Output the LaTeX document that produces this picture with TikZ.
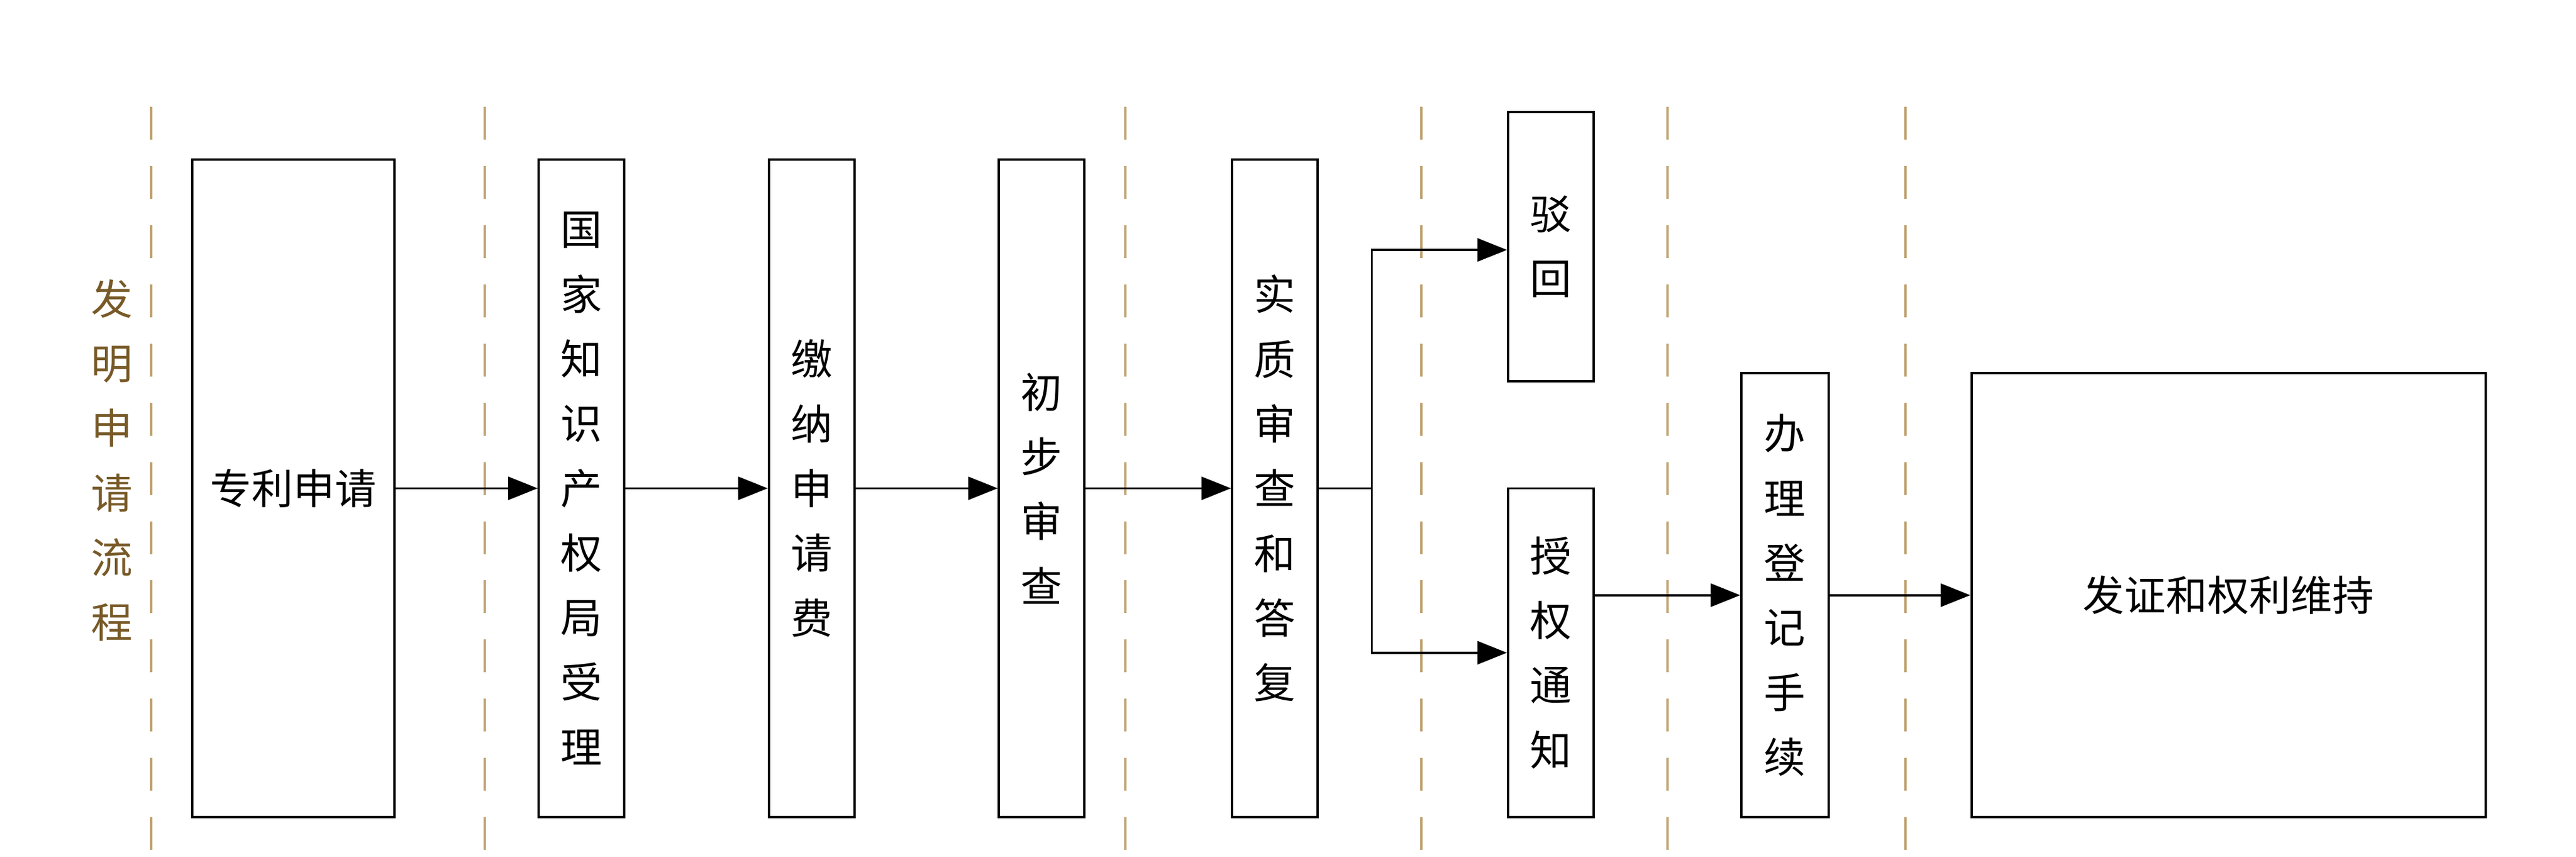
\documentclass[tikz,border=0pt]{standalone}
\usepackage{fontspec}
\setmainfont{Noto Sans CJK SC}
\usetikzlibrary{arrows.meta}
\definecolor{tan}{RGB}{190,160,110}
\definecolor{txtbrown}{RGB}{120,90,40}
\tikzset{
  box/.style={draw, line width=4pt, align=center, inner sep=0pt,
    font=\fontsize{72}{112}\selectfont},
  guide/.style={tan, line width=4pt, dash pattern=on 2cm off 1.6cm},
  arrow/.style={-{Triangle[length=1.8cm,width=1.4cm]}, line width=4pt},
  line/.style={line width=4pt}
}
\begin{document}
\begin{tikzpicture}[x=0.1cm, y=-0.1cm]
\useasboundingbox (0,0) rectangle (1568,521);

% guides
\foreach \gx in {92,295,685,865,1015,1160}
  \draw[guide] (\gx,65) -- (\gx,521);

\node[txtbrown, align=center, font=\fontsize{72}{112}\selectfont] (title) at (68,280) {发\\明\\申\\请\\流\\程};

% boxes
\node[box, minimum width=12.3cm, minimum height=40cm] (apply) at (178.5,297) {专利申请};
\node[box, minimum width=5.2cm, minimum height=40cm] (accept) at (354,297) {国\\家\\知\\识\\产\\权\\局\\受\\理};
\node[box, minimum width=5.2cm, minimum height=40cm] (fee) at (494,297) {缴\\纳\\申\\请\\费};
\node[box, minimum width=5.2cm, minimum height=40cm] (prelim) at (634,297) {初\\步\\审\\查};
\node[box, minimum width=5.2cm, minimum height=40cm] (subst) at (776,297) {实\\质\\审\\查\\和\\答\\复};
\node[box, minimum width=5.2cm, minimum height=16.4cm] (reject) at (944,150) {驳\\回};
\node[box, minimum width=5.2cm, minimum height=20cm] (grant) at (944,397) {授\\权\\通\\知};
\node[box, minimum width=5.3cm, minimum height=27cm] (register) at (1086.5,362) {办\\理\\登\\记\\手\\续};
\node[box, minimum width=31.3cm, minimum height=27cm] (cert) at (1356.5,362) {发证和权利维持};

\coordinate (split) at (835,297);

% arrows
\draw[arrow] (apply.east |- 0,297) -- (accept.west |- 0,297);
\draw[arrow] (accept.east |- 0,297) -- (fee.west |- 0,297);
\draw[arrow] (fee.east |- 0,297) -- (prelim.west |- 0,297);
\draw[arrow] (prelim.east |- 0,297) -- (subst.west |- 0,297);
\draw[line] (subst.east |- 0,297) -- (split);
\draw[arrow] (split) |- (reject.west |- 0,152);
\draw[arrow] (split) |- (grant.west |- 0,397);
\draw[arrow] (grant.east |- 0,362) -- (register.west);
\draw[arrow] (register.east) -- (cert.west);
\end{tikzpicture}
\end{document}
